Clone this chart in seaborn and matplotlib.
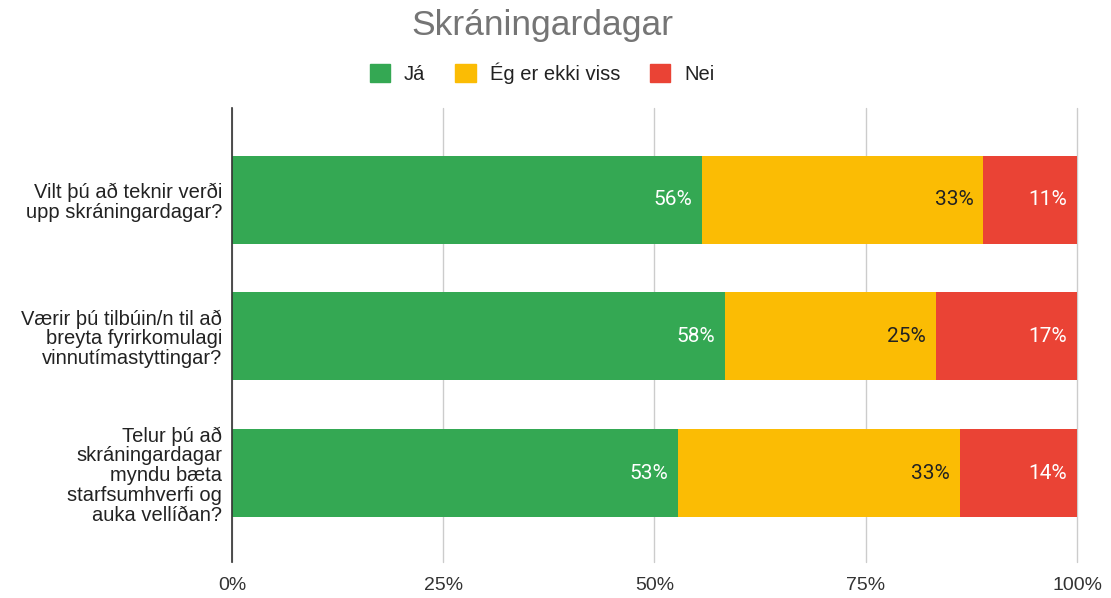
import pandas as pd
import numpy as np
import matplotlib
matplotlib.use('Agg')
import matplotlib.pyplot as plt
import seaborn as sns
from matplotlib.patches import Patch

# Data (percent of answers per question)
questions = [
    'Vilt þú að teknir verði\nupp skráningardagar?',
    'Værir þú tilbúin/n til að\nbreyta fyrirkomulagi\nvinnutímastyttingar?',
    'Telur þú að\nskráningardagar\nmyndu bæta\nstarfsumhverfi og\nauka vellíðan?',
]
series_names = ['Já', 'Ég er ekki viss', 'Nei']
ja = [55.6, 58.3, 52.8]
ekki_viss = [33.3, 25.0, 33.3]
nei = [11.1, 16.7, 13.9]
tick_values = [0, 25, 50, 75, 100]
tick_labels = ['0%', '25%', '50%', '75%', '100%']

colors = ['#34A853', '#FBBC04', '#EA4335']
label_colors = ['white', '#222222', 'white']

df = pd.DataFrame({'question': questions, 'Já': ja, 'Ég er ekki viss': ekki_viss, 'Nei': nei})
cum = df[series_names].cumsum(axis=1)

sns.set_style('white')
plt.rcParams['font.family'] = ['Liberation Sans', 'DejaVu Sans']

fig = plt.figure(figsize=(11.11, 5.98), dpi=100)
ax = fig.add_axes([0.2088, 0.0602, 0.7606, 0.7592])

# stacked bars: draw the widest cumulative first
for name, color in reversed(list(zip(series_names, colors))):
    sns.barplot(x=cum[name], y=df['question'], color=color, orient='h',
                width=0.645, saturation=1, linewidth=0, ax=ax, zorder=3)

# value labels at the right end of each segment
for i, q in enumerate(questions):
    for name, lc in zip(series_names, label_colors):
        end = cum.loc[i, name]
        val = df.loc[i, name]
        ax.annotate(f'{val:.0f}%', xy=(end, i), xytext=(-7, 0), textcoords='offset points',
                    ha='right', va='center', color=lc, fontsize=15,
                    fontfamily='Roboto', zorder=5)

ax.set_xlim(0, 100)
ax.set_ylim(2.65, -0.67)
ax.set_xticks(tick_values)
ax.set_xticklabels(tick_labels, fontsize=14, color='#333333')
ax.tick_params(axis='x', length=0, pad=11)
ax.tick_params(axis='y', length=0, pad=7)
for lbl in ax.get_yticklabels():
    lbl.set_fontsize(14.5)
    lbl.set_color('#222222')
    lbl.set_linespacing(1.05)
ax.set_xlabel('')
ax.set_ylabel('')
ax.grid(axis='x', color='#cccccc', linewidth=1, zorder=0)
for gl in ax.get_xgridlines():
    gl.set_clip_on(False)
ax.set_axisbelow(True)
for s in ['top', 'right', 'bottom']:
    ax.spines[s].set_visible(False)
ax.spines['left'].set_color('#333333')
ax.spines['left'].set_linewidth(1.2)
ax.spines['left'].set_zorder(6)

fig.text(0.488, 0.958, 'Skráningardagar', ha='center', va='center', fontsize=25.5, color='#757575')

handles = [Patch(facecolor=c, edgecolor=c, label=n) for n, c in zip(series_names, colors)]
fig.legend(handles=handles, loc='center', bbox_to_anchor=(0.488, 0.877), ncol=3, frameon=False,
           fontsize=14.5, handlelength=1.0, handleheight=1.0, handletextpad=0.7, columnspacing=1.5,
           labelcolor='#222222')

fig.savefig('out.png', dpi=100)
